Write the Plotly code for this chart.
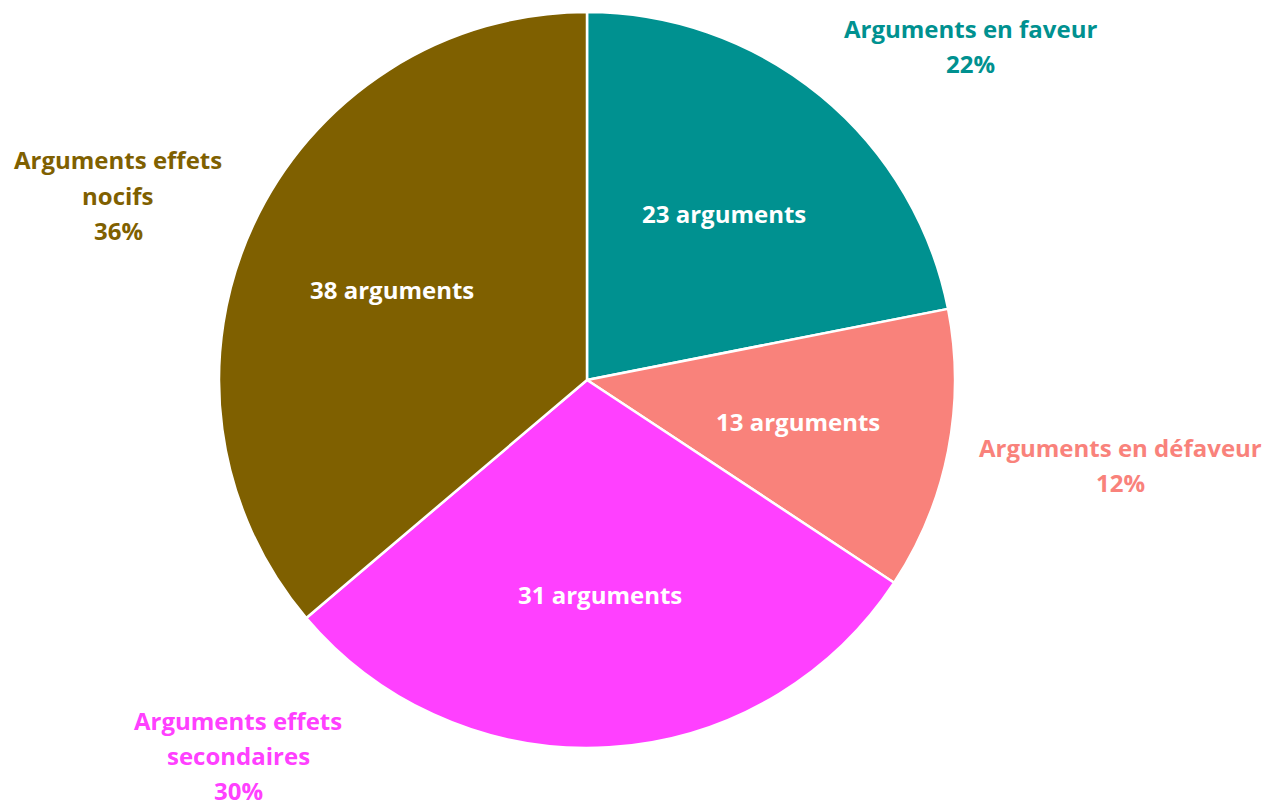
import math
import plotly.graph_objects as go

categories = ["Arguments en faveur", "Arguments en défaveur", "Arguments effets secondaires", "Arguments effets nocifs"]
values = [23, 13, 31, 38]
colors = ["#009190", "#F9827B", "#FF40FF", "#7F6000"]
inside_text = [f"{v} arguments" for v in values]
outer_lines = [["Arguments en faveur", "22%"],
               ["Arguments en défaveur", "12%"],
               ["Arguments effets", "secondaires", "30%"],
               ["Arguments effets", "nocifs", "36%"]]
outer_pos = [(970, 28), (1120, 447), (238, 720), (118, 160)]

W, H = 1270, 805
OFF = 8  # page body margin
FONT = "Open Sans"
CX, CY, R = 587, 380, 368


def px(x):
    return (x - OFF) / W


def py(y):
    return 1 - (y - OFF) / H


fig = go.Figure(go.Pie(
    labels=categories, values=values,
    textinfo="none",
    sort=False, direction="clockwise", rotation=0,
    marker=dict(colors=colors, line=dict(color="white", width=2.5)),
    domain=dict(x=[px(CX - R), px(CX + R)], y=[py(CY + R), py(CY - R)]),
    showlegend=False, hoverinfo="label+value+percent",
))

anns = []
total = sum(values)
cum = 0
for v, t in zip(values, inside_text):
    mid = (cum + v / 2) / total * 2 * math.pi
    cum += v
    r = 0.585 * R
    x = CX + r * math.sin(mid)
    y = CY - r * math.cos(mid)
    anns.append(dict(x=px(x), y=py(y), xref="paper", yref="paper", text=t, showarrow=False,
                     xanchor="center", yanchor="middle",
                     font=dict(family=FONT, size=24, color="white", weight="bold")))

for lines, (cx, cy), col in zip(outer_lines, outer_pos, colors):
    for i, line in enumerate(lines):
        anns.append(dict(x=px(cx), y=py(cy + 35 * i), xref="paper", yref="paper",
                         text=line, showarrow=False, xanchor="center", yanchor="middle",
                         font=dict(family=FONT, size=24, color=col, weight="bold")))

fig.update_layout(width=W, height=H, margin=dict(l=0, r=0, t=0, b=0),
                  paper_bgcolor="white", plot_bgcolor="white", annotations=anns)
fig.write_html("out.html")
